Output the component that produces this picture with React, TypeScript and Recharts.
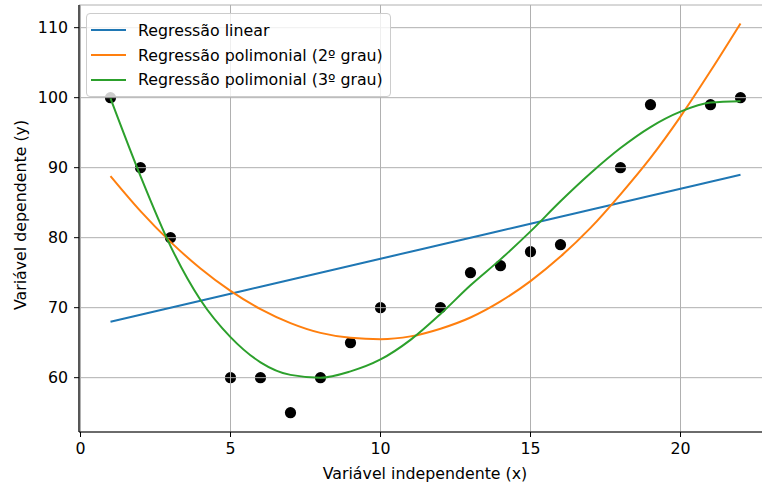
import React from 'react';
import {
  ComposedChart,
  Line,
  Scatter,
  XAxis,
  YAxis,
  CartesianGrid,
  Legend,
} from 'recharts';

// Observed samples
const sampleX = [1, 2, 3, 5, 6, 7, 8, 9, 10, 12, 13, 14, 15, 16, 18, 19, 21, 22];
const sampleY = [100, 90, 80, 60, 60, 55, 60, 65, 70, 70, 75, 76, 78, 79, 90, 99, 99, 100];

// Fitted curves, evaluated at each integer x
const fitX = [1, 2, 3, 4, 5, 6, 7, 8, 9, 10, 11, 12, 13, 14, 15, 16, 17, 18, 19, 20, 21, 22];
const linearFit = [68, 69, 70, 71, 72, 73, 74, 75, 76, 77, 78, 79, 80, 81, 82, 83, 84, 85, 86, 87, 88, 89];
const quadFit = [
  88.8, 83.8, 79.4, 75.6, 72.4, 69.8, 67.8, 66.4, 65.7, 65.5, 65.9,
  67.0, 68.6, 70.9, 73.8, 77.3, 81.4, 86.2, 91.4, 97.3, 103.8, 110.6,
];
const cubicFit = [
  99.9, 88.8, 78.8, 71.1, 65.8, 62.2, 60.4, 60.0, 60.9, 62.6, 65.4,
  69.1, 73.2, 76.9, 80.9, 85.2, 89.2, 92.8, 95.8, 98.0, 99.3, 99.5,
];

const xTicks = [0, 5, 10, 15, 20];
const yTicks = [60, 70, 80, 90, 100, 110];

const seriesNames = {
  linear: 'Regressão linear',
  quad: 'Regressão polimonial (2º grau)',
  cubic: 'Regressão polimonial (3º grau)',
};

const FONT = 'DejaVu Sans, sans-serif';
const FONT_SIZE = 15.8;

const fitRows = fitX.map((x, i) => ({
  x,
  linear: linearFit[i],
  quad: quadFit[i],
  cubic: cubicFit[i],
}));

const points = sampleX.map((x, i) => ({ x, y: sampleY[i] }));

const tickStyle = { fill: '#000', fontSize: FONT_SIZE, fontFamily: FONT };

function LegendBox({ payload }: any) {
  const items = (payload || []).filter((p: any) => p.type !== 'none');
  return (
    <div
      style={{
        background: 'rgba(255,255,255,0.8)',
        border: '1px solid #cccccc',
        borderRadius: 4,
        padding: '4px 7px 4px 4px',
        fontFamily: FONT,
        fontSize: FONT_SIZE,
        color: '#000',
      }}
    >
      {items.map((p: any) => (
        <div key={p.value} style={{ display: 'flex', alignItems: 'center', height: 24.8 }}>
          <span style={{ display: 'inline-block', width: 35, height: 2, background: p.color, marginRight: 12 }} />
          <span>{p.value}</span>
        </div>
      ))}
    </div>
  );
}

export default function App() {
  return (
    <div
      style={{
        position: 'absolute',
        left: 0,
        top: 0,
        width: 762,
        height: 486,
        overflow: 'hidden',
        background: '#fff',
      }}
    >
      <ComposedChart
        width={790}
        height={486}
        data={fitRows}
        margin={{ top: 5, right: 18, left: 0, bottom: 0 }}
      >
        {/* dots sit under the grid and the fitted lines */}
        <Scatter
          data={points}
          dataKey="y"
          fill="#000"
          zIndex={300}
          shape={(props: any) => <circle cx={props.cx} cy={props.cy} r={5.6} fill="#000" />}
          legendType="none"
          isAnimationActive={false}
        />
        <CartesianGrid stroke="#b0b0b0" strokeWidth={1} zIndex={350} />
        <XAxis
          dataKey="x"
          type="number"
          domain={[-0.05, 23.05]}
          ticks={xTicks}
          allowDataOverflow
          height={54}
          tickSize={5}
          tickMargin={6}
          tick={tickStyle}
          axisLine={{ stroke: '#000', strokeWidth: 1.2 }}
          tickLine={{ stroke: '#000', strokeWidth: 1 }}
          label={{
            content: () => (
              <text x={425} y={479} textAnchor="middle" fontFamily={FONT} fontSize={FONT_SIZE} fill="#000">
                Variável independente (x)
              </text>
            ),
          }}
        />
        <XAxis
          xAxisId="top"
          orientation="top"
          type="number"
          domain={[-0.05, 23.05]}
          height={0}
          tick={false}
          tickLine={false}
          axisLine={{ stroke: '#000', strokeWidth: 1.2 }}
        />
        <YAxis
          type="number"
          domain={[52.24, 113.24]}
          ticks={yTicks}
          allowDataOverflow
          width={79}
          tickSize={5}
          tickMargin={6}
          tick={tickStyle}
          axisLine={{ stroke: '#000', strokeWidth: 1.2 }}
          tickLine={{ stroke: '#000', strokeWidth: 1 }}
          label={{
            content: () => (
              <text
                x={20}
                y={215}
                transform="rotate(-90 20 215)"
                textAnchor="middle"
                dominantBaseline="central"
                fontFamily={FONT}
                fontSize={FONT_SIZE}
                fill="#000"
              >
                Variável dependente (y)
              </text>
            ),
          }}
        />
        <Line
          dataKey="linear"
          name={seriesNames.linear}
          type="monotone"
          stroke="#1f77b4"
          strokeWidth={2}
          dot={false}
          isAnimationActive={false}
        />
        <Line
          dataKey="quad"
          name={seriesNames.quad}
          type="monotone"
          stroke="#ff7f0e"
          strokeWidth={2}
          dot={false}
          isAnimationActive={false}
        />
        <Line
          dataKey="cubic"
          name={seriesNames.cubic}
          type="monotone"
          stroke="#2ca02c"
          strokeWidth={2}
          dot={false}
          isAnimationActive={false}
        />
        <Legend
          layout="horizontal"
          verticalAlign="middle"
          align="center"
          content={<LegendBox />}
          wrapperStyle={{ left: 86, top: 13, width: 'auto', bottom: 'auto' }}
        />
      </ComposedChart>
    </div>
  );
}
